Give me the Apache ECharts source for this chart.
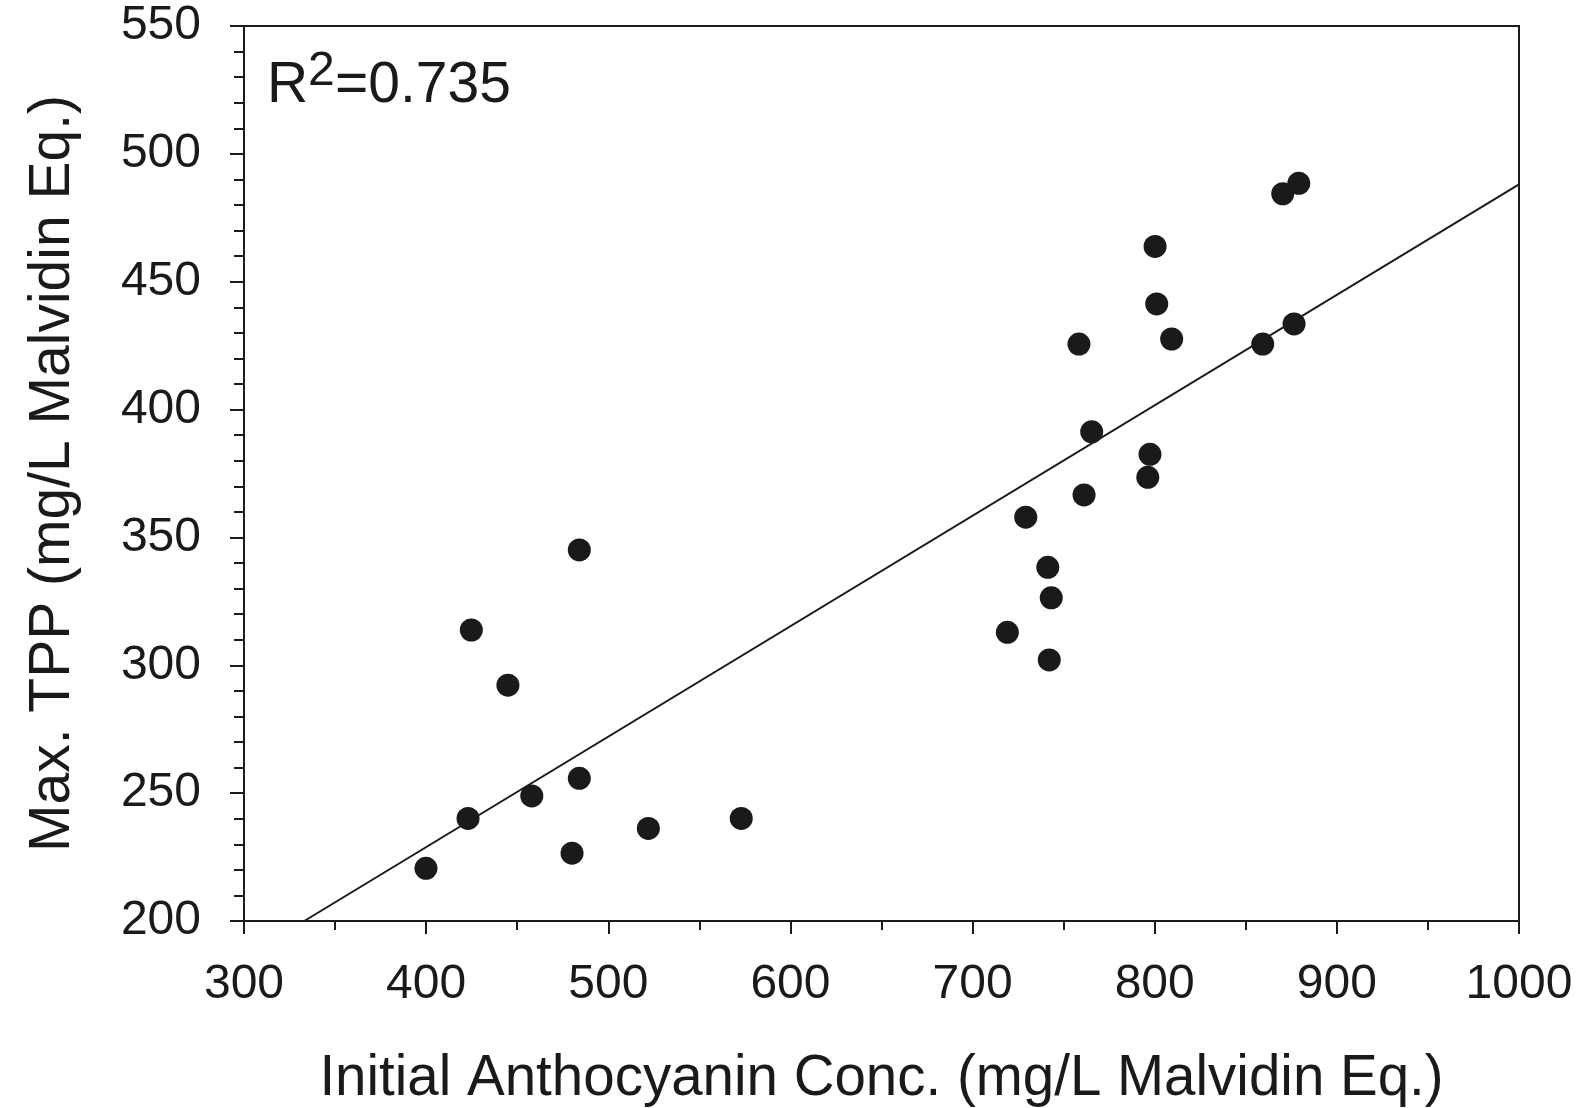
<!DOCTYPE html>
<html>
<head>
<meta charset="utf-8">
<script src="https://cdn.jsdelivr.net/npm/echarts@6/dist/echarts.min.js"></script>
<style>
html,body{margin:0;padding:0;background:#fff;}
#chart{width:1580px;height:1108px;}
</style>
</head>
<body>
<div id="chart"></div>
<script>
// Data
const anthocyanin = [484.1, 424.8, 444.9, 484.1, 458.0, 423.0, 522.0, 573.0, 480.1, 399.9,
  765.4, 797.4, 796.2, 761.2, 729.2, 741.3, 743.2, 719.1, 742.1,
  879.1, 870.3, 800.2, 801.1, 758.4, 809.3, 859.3, 876.5];
const maxTPP = [345.1, 313.8, 292.2, 255.8, 248.9, 240.1, 236.2, 240.1, 226.5, 220.6,
  391.3, 382.5, 373.5, 366.6, 357.9, 338.3, 326.4, 312.9, 302.1,
  488.5, 484.4, 463.8, 441.3, 425.6, 427.6, 425.6, 433.5];
const fitX = [333.1, 1000];
const fitY = [200, 488.1];
const xTicks = [300, 400, 500, 600, 700, 800, 900, 1000];
const yTicks = [200, 250, 300, 350, 400, 450, 500, 550];
const xTitle = 'Initial Anthocyanin Conc. (mg/L Malvidin Eq.)';
const yTitle = 'Max. TPP (mg/L Malvidin Eq.)';
const r2Value = '=0.735';

const ink = '#1a1a1a';
const font = 'Liberation Sans, Arial, sans-serif';

const chart = echarts.init(document.getElementById('chart'), null, {renderer: 'canvas'});
const points = anthocyanin.map((x, i) => [x, maxTPP[i]]);
const fit = fitX.map((x, i) => [x, fitY[i]]);

chart.setOption({
  animation: false,
  backgroundColor: '#fff',
  grid: {
    left: 244, top: 26, right: 61, bottom: 187,
    containLabel: false, outerBoundsMode: 'none',
    show: true, borderColor: ink, borderWidth: 2, backgroundColor: 'transparent'
  },
  xAxis: {
    type: 'value',
    min: xTicks[0], max: xTicks[xTicks.length - 1], interval: 100,
    name: xTitle, nameLocation: 'middle', nameGap: 130,
    nameTextStyle: {fontFamily: font, fontSize: 56.5, color: ink, lineHeight: 57},
    axisLine: {show: true, onZero: false, lineStyle: {color: ink, width: 2}},
    axisTick: {show: true, inside: false, length: 13, lineStyle: {color: ink, width: 2}},
    minorTick: {show: true, splitNumber: 2, length: 9, lineStyle: {color: ink, width: 2}},
    splitLine: {show: false},
    axisLabel: {fontFamily: font, fontSize: 48, color: ink, margin: 40, lineHeight: 48,
      formatter: v => String(v)}
  },
  yAxis: {
    type: 'value',
    min: yTicks[0], max: yTicks[yTicks.length - 1], interval: 50,
    name: yTitle, nameLocation: 'middle', nameGap: 162, nameRotate: 90,
    nameTextStyle: {fontFamily: font, fontSize: 57, color: ink, lineHeight: 57},
    axisLine: {show: true, onZero: false, lineStyle: {color: ink, width: 2}},
    axisTick: {show: true, inside: false, length: 14, lineStyle: {color: ink, width: 2}},
    minorTick: {show: true, splitNumber: 5, length: 10, lineStyle: {color: ink, width: 2}},
    splitLine: {show: false},
    axisLabel: {fontFamily: font, fontSize: 48, color: ink, margin: 43, lineHeight: 48,
      formatter: v => String(v)}
  },
  graphic: [
    {type: 'text', left: 267, top: 87 - 29, style: {text: 'R', font: '57px ' + font, fill: ink}},
    {type: 'text', left: 308, top: 72 - 24, style: {text: '2', font: '48px ' + font, fill: ink}},
    {type: 'text', left: 335, top: 87 - 29, style: {text: r2Value, font: '57px ' + font, fill: ink}}
  ],
  series: [
    {
      type: 'line', data: fit, symbol: 'none', silent: true,
      lineStyle: {color: ink, width: 2}, z: 2
    },
    {
      type: 'scatter', data: points, symbol: 'circle', symbolSize: 23,
      itemStyle: {color: ink, opacity: 1}, z: 3
    }
  ]
});
</script>
</body>
</html>
